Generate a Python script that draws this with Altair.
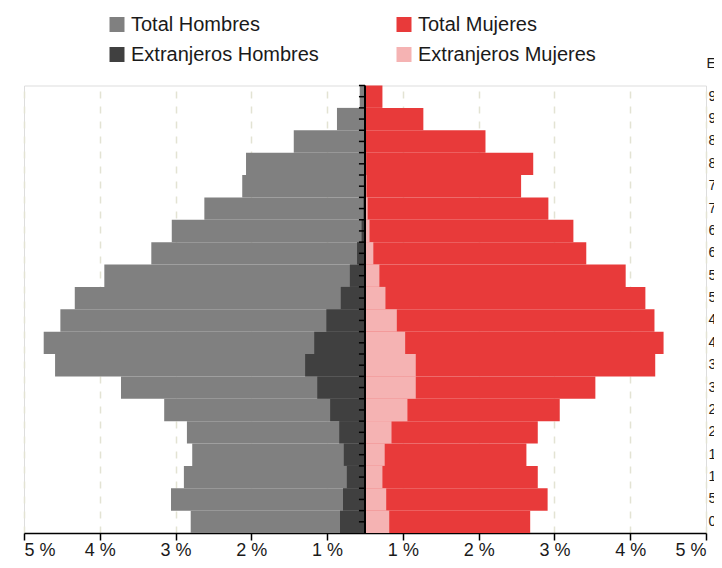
import altair as alt
import pandas as pd

# Age groups, bottom (youngest) to top (oldest)
ages = ["0-4", "5-9", "10-14", "15-19", "20-24", "25-29", "30-34", "35-39",
        "40-44", "45-49", "50-54", "55-59", "60-64", "65-69", "70-74",
        "75-79", "80-84", "85-89", "90-94", "95-99"]

men_total = [2.30, 2.56, 2.39, 2.28, 2.35, 2.65, 3.22, 4.09, 4.24, 4.02,
             3.83, 3.44, 2.82, 2.55, 2.12, 1.62, 1.57, 0.94, 0.37, 0.07]
men_foreign = [0.33, 0.29, 0.24, 0.28, 0.34, 0.46, 0.63, 0.79, 0.67, 0.51,
               0.32, 0.20, 0.105, 0.045, 0.02, 0.015, 0.012, 0.008, 0.005, 0.005]
women_total = [2.18, 2.41, 2.28, 2.13, 2.28, 2.57, 3.04, 3.83, 3.94, 3.82,
               3.70, 3.44, 2.92, 2.75, 2.42, 2.06, 2.22, 1.59, 0.77, 0.23]
women_foreign = [0.32, 0.28, 0.23, 0.26, 0.35, 0.56, 0.67, 0.67, 0.53, 0.42,
                 0.27, 0.19, 0.11, 0.06, 0.035, 0.02, 0.015, 0.01, 0.005, 0.003]

tick_values = [-4.5, -3.5, -2.5, -1.5, -0.5, 0.5, 1.5, 2.5, 3.5, 4.5]

# legend fills column by column: (Total H, Extranjeros H) | (Total M, Extranjeros M)
series = ["Total Hombres", "Extranjeros Hombres", "Total Mujeres", "Extranjeros Mujeres"]
colors = ["#808080", "#404040", "#E83A3A", "#F5B3B3"]

rows = []
for i, a in enumerate(ages):
    rows.append({"edad": a, "serie": "Total Hombres", "valor": -men_total[i], "capa": 0})
    rows.append({"edad": a, "serie": "Total Mujeres", "valor": women_total[i], "capa": 0})
for i, a in enumerate(ages):
    rows.append({"edad": a, "serie": "Extranjeros Hombres", "valor": -men_foreign[i], "capa": 1})
    rows.append({"edad": a, "serie": "Extranjeros Mujeres", "valor": women_foreign[i], "capa": 1})
df = pd.DataFrame(rows)
age_df = pd.DataFrame({"edad": ages})
center_df = pd.DataFrame({"c": [0]})

age_order = ages[::-1]

x_scale = alt.Scale(domain=[-4.5, 4.5], nice=False)
y_scale = alt.Scale(domain=age_order, paddingInner=0, paddingOuter=0)

x_axis = alt.Axis(
    values=tick_values,
    labelExpr="format(abs(datum.value) + 0.5, 'd') + ' %'",
    title=None,
    grid=True, gridDash=[7, 8], gridColor="#E3E3D3", gridWidth=1.5,
    domainColor="black", domainWidth=1.5,
    tickColor="black", tickSize=7, tickWidth=1.5,
    labelFontSize=18, labelPadding=1, labelColor="#1a1a1a",
    labelFont="Liberation Sans",
)
y_axis = alt.Axis(
    orient="right", domain=False, ticks=False, tickSize=0, grid=False,
    labelFontSize=14, labelPadding=2, labelColor="#1a1a1a", labelAlign="left",
    labelFont="Liberation Sans",
    title="Edad", titleAngle=0, titleX=0, titleY=-18.5, titleAlign="left",
    titleBaseline="alphabetic", titleFontSize=14, titleFontWeight="normal",
    titleColor="#1a1a1a", titleFont="Liberation Sans",
)
legend = alt.Legend(
    orient="none", legendX=83, legendY=-71, columns=2, title=None,
    symbolType="square", symbolSize=225, symbolStrokeWidth=0, symbolOpacity=1,
    labelFontSize=20, labelFont="Liberation Sans", labelColor="#1a1a1a",
    labelOffset=4, rowPadding=10, columnPadding=75, padding=0,
    labelLimit=400,
)

def bars(capa):
    return alt.Chart(df).transform_filter(f"datum.capa == {capa}").mark_bar(strokeWidth=0).encode(
        x=alt.X("valor:Q", scale=x_scale, stack=None, axis=x_axis),
        y=alt.Y("edad:N", scale=y_scale, axis=y_axis),
        color=alt.Color("serie:N", scale=alt.Scale(domain=series, range=colors), legend=legend),
    )

center_line = alt.Chart(center_df).mark_rule(color="black", strokeWidth=2).encode(
    x=alt.X("c:Q", scale=x_scale),
)
ticks_mid = alt.Chart(age_df).mark_rule(color="black", strokeWidth=1.5).encode(
    y=alt.Y("edad:N", scale=y_scale, bandPosition=0.5),
    x=alt.datum(0),
    x2=alt.datum(-0.08),
)
ticks_edge = alt.Chart(age_df).mark_rule(color="black", strokeWidth=1.5).encode(
    y=alt.Y("edad:N", scale=y_scale, bandPosition=0),
    x=alt.datum(0),
    x2=alt.datum(-0.08),
)

chart = alt.layer(bars(0), bars(1), center_line, ticks_mid, ticks_edge).properties(
    width=682, height=447.5,
    padding={"left": 16, "top": 77.5, "right": 8, "bottom": 27},
    autosize=alt.AutoSizeParams(type="none"),
).configure_view(stroke=None).configure(font="Liberation Sans")

chart.save("out.html", embed_options={"renderer": "svg", "actions": False})
